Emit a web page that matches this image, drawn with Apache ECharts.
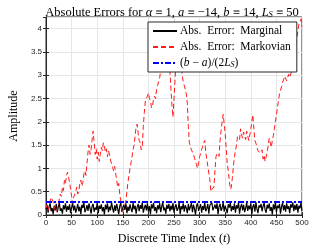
<!DOCTYPE html>
<html>
<head>
<meta charset="utf-8">
<script src="https://cdn.jsdelivr.net/npm/echarts@6/dist/echarts.min.js"></script>
<style>
  html, body { margin: 0; padding: 0; background: #fff; }
  #main { width: 333px; height: 250px; }
</style>
</head>
<body>
<div id="main"></div>
<script>
// x ticks / y ticks
var xTicks = [0, 50, 100, 150, 200, 250, 300, 350, 400, 450, 500];
var yTicks = [0, 0.5, 1, 1.5, 2, 2.5, 3, 3.5, 4];

// Abs. Error: Markovian, sampled every 2 steps (t = 0, 2, ..., 500)
var markovStep = 2;
var markovian = [
  0.15, 0.22, 0.10, 0.18, 0.30, 0.38, 0.42, 0.28, 0.20, 0.10,
  0.05, 0.12, 0.20, 0.35, 0.45, 0.40, 0.60, 0.52, 0.75, 0.68,
  0.85, 0.92, 0.90, 0.70, 0.55, 0.40, 0.25, 0.38, 0.35, 0.50,
  0.60, 0.45, 0.50, 0.68, 0.75, 0.62, 0.70, 0.88, 0.95, 0.85,
  1.10, 1.35, 1.50, 1.30, 1.40, 1.62, 1.80, 1.55, 1.30, 1.42,
  1.20, 1.35, 1.15, 1.30, 1.45, 1.38, 1.55, 1.48, 1.35, 1.42,
  1.25, 1.38, 1.30, 1.18, 1.10, 1.02, 0.95, 1.05, 0.90, 0.75,
  0.60, 0.68, 0.45, 0.30, 0.10, 0.05, 0.15, 0.22, 0.30, 0.50,
  0.70, 0.85, 1.00, 1.12, 1.25, 1.40, 1.50, 1.70, 1.90, 1.95,
  1.75, 1.60, 1.55, 1.40, 1.45, 1.90, 2.20, 2.45, 2.50, 2.55,
  2.62, 2.50, 2.45, 2.30, 2.35, 2.48, 2.55, 2.50, 2.70, 2.78,
  2.80, 2.95, 3.10, 3.25, 3.30, 3.42, 3.50, 3.62, 3.70, 3.58,
  3.45, 3.10, 2.70, 2.35, 2.10, 2.50, 2.90, 3.30, 3.50, 3.65,
  3.60, 3.40, 3.20, 3.00, 2.85, 2.78, 2.70, 2.60, 2.40, 1.90,
  1.55, 1.48, 1.40, 1.35, 1.30, 1.22, 1.15, 1.08, 1.00, 1.12,
  1.25, 1.32, 1.40, 1.48, 1.55, 1.60, 1.35, 1.20, 1.05, 0.90,
  0.75, 0.50, 0.55, 0.58, 0.60, 0.95, 1.25, 1.33, 1.30, 1.26,
  1.60, 1.82, 2.00, 2.16, 2.15, 1.75, 1.40, 1.10, 0.95, 0.75,
  0.55, 0.60, 0.80, 1.05, 1.25, 1.38, 1.50, 1.68, 1.70, 1.62,
  1.85, 1.72, 1.65, 1.78, 1.75, 1.62, 1.80, 1.70, 1.60, 1.72,
  1.85, 2.00, 2.15, 1.85, 1.60, 1.54, 1.50, 1.38, 1.40, 1.33,
  1.30, 1.40, 1.20, 1.28, 1.15, 1.25, 1.35, 1.50, 1.65, 1.55,
  1.45, 1.60, 1.70, 1.85, 2.00, 2.15, 2.30, 2.45, 2.60, 2.64,
  2.75, 2.85, 2.90, 2.98, 3.00, 2.88, 2.90, 3.02, 2.95, 2.92,
  3.10, 3.20, 3.30, 3.45, 3.60, 3.80, 3.95, 4.10, 4.15, 4.20,
  4.05
];

// Abs. Error: Marginal, sampled every 2 steps (t = 0, 2, ..., 500)
var marginalStep = 2;
var marginal = [
  0.12, 0.22, 0.05, 0.18, 0.25, 0.08, 0.15, 0.02, 0.20, 0.10,
  0.24, 0.06, 0.17, 0.26, 0.09, 0.14, 0.03, 0.21, 0.12, 0.25,
  0.07, 0.19, 0.11, 0.23, 0.04, 0.16, 0.26, 0.10, 0.20, 0.05,
  0.13, 0.24, 0.08, 0.18, 0.02, 0.22, 0.15, 0.27, 0.06, 0.12,
  0.21, 0.09, 0.25, 0.14, 0.03, 0.19, 0.24, 0.07, 0.16, 0.11,
  0.26, 0.04, 0.20, 0.13, 0.23, 0.08, 0.17, 0.01, 0.22, 0.12,
  0.25, 0.06, 0.18, 0.10, 0.27, 0.15, 0.05, 0.21, 0.09, 0.24,
  0.13, 0.02, 0.19, 0.26, 0.07, 0.16, 0.22, 0.11, 0.25, 0.04,
  0.18, 0.09, 0.23, 0.14, 0.06, 0.26, 0.12, 0.20, 0.03, 0.17,
  0.24, 0.08, 0.21, 0.13, 0.27, 0.05, 0.15, 0.22, 0.10, 0.25,
  0.07, 0.19, 0.02, 0.23, 0.14, 0.26, 0.09, 0.17, 0.04, 0.21,
  0.12, 0.25, 0.06, 0.18, 0.27, 0.10, 0.16, 0.03, 0.22, 0.13,
  0.24, 0.08, 0.20, 0.11, 0.26, 0.05, 0.17, 0.23, 0.09, 0.14,
  0.27, 0.02, 0.19, 0.12, 0.25, 0.07, 0.21, 0.15, 0.04, 0.24,
  0.10, 0.18, 0.26, 0.06, 0.22, 0.13, 0.01, 0.20, 0.25, 0.09,
  0.16, 0.23, 0.05, 0.19, 0.11, 0.27, 0.08, 0.14, 0.24, 0.03,
  0.21, 0.17, 0.26, 0.10, 0.06, 0.22, 0.13, 0.25, 0.02, 0.18,
  0.24, 0.09, 0.15, 0.27, 0.07, 0.20, 0.12, 0.04, 0.23, 0.16,
  0.26, 0.08, 0.19, 0.11, 0.25, 0.05, 0.21, 0.14, 0.27, 0.03,
  0.17, 0.24, 0.10, 0.22, 0.06, 0.15, 0.26, 0.09, 0.20, 0.12,
  0.25, 0.02, 0.18, 0.23, 0.07, 0.27, 0.13, 0.04, 0.21, 0.16,
  0.24, 0.08, 0.19, 0.26, 0.11, 0.05, 0.22, 0.14, 0.25, 0.09,
  0.17, 0.01, 0.23, 0.12, 0.27, 0.06, 0.20, 0.15, 0.24, 0.03,
  0.18, 0.26, 0.10, 0.21, 0.07, 0.25, 0.13, 0.19, 0.04, 0.23,
  0.16, 0.27, 0.08, 0.22, 0.11, 0.24, 0.05, 0.20, 0.14, 0.26,
  0.09
];

// (b - a)/(2 L_S) with a = -14, b = 14, L_S = 50
var a = -14, b = 14, Ls = 50;
var bound = (b - a) / (2 * Ls);
var boundT = [0, 500];

function pairs(vals, step) {
  return vals.map(function (v, i) { return [i * step, v]; });
}

var serif = 'Liberation Serif';
var sans = 'Liberation Sans';
var axisCol = '#262626';

var chart = echarts.init(document.getElementById('main'));
var option = {
  animation: false,
  backgroundColor: '#fff',
  title: {
    text: 'Absolute Errors for {i|α} ≡ 1, {i|a} ≡ −14, {i|b} ≡ 14, {i|L}{s|S} ≡ 50',
    left: 167, textAlign: 'center', top: 1,
    textStyle: {
      fontFamily: serif, fontSize: 12.5, fontWeight: 'normal', color: '#000',
      rich: {
        i: { fontFamily: serif, fontSize: 12.5, fontStyle: 'italic', color: '#000' },
        s: { fontFamily: serif, fontSize: 8.5, fontStyle: 'italic', color: '#000', verticalAlign: 'bottom', padding: [4, 0, 0, 0] }
      }
    }
  },
  legend: {
    orient: 'vertical',
    left: 148, top: 22,
    itemWidth: 24, itemHeight: 8, itemGap: 4,
    padding: [3, 6, 3, 4],
    backgroundColor: '#fff',
    borderColor: axisCol, borderWidth: 1,
    itemStyle: { opacity: 0 },
    data: ['Marginal', 'Markovian', 'Bound'],
    formatter: function (name) {
      if (name === 'Marginal') return 'Abs.  Error:  Marginal';
      if (name === 'Markovian') return 'Abs.  Error:  Markovian';
      return '({i|b} − {i|a})/(2{i|L}{s|S})';
    },
    textStyle: {
      fontFamily: serif, fontSize: 11.5, color: '#000', padding: [0, 0, 0, -2],
      rich: {
        i: { fontFamily: serif, fontSize: 11.5, fontStyle: 'italic', color: '#000' },
        s: { fontFamily: serif, fontSize: 8, fontStyle: 'italic', color: '#000', verticalAlign: 'bottom', padding: [4, 0, 0, 0] }
      }
    }
  },
  grid: {
    left: 43, right: 31, top: 17, bottom: 27,
    show: true, borderColor: axisCol, borderWidth: 1, backgroundColor: 'transparent'
  },
  xAxis: [{
    type: 'value', min: 0, max: 500, interval: 50,
    name: 'Discrete Time Index ({i|t})',
    nameLocation: 'middle', nameGap: 18,
    nameTextStyle: {
      fontFamily: serif, fontSize: 12, color: '#000',
      rich: { i: { fontFamily: serif, fontSize: 12, fontStyle: 'italic', color: '#000' } }
    },
    axisLine: { lineStyle: { color: axisCol, width: 1 } },
    axisTick: { inside: true, length: 3, lineStyle: { color: axisCol } },
    axisLabel: { fontFamily: sans, fontSize: 8, color: axisCol, margin: 4 },
    splitLine: { show: true, lineStyle: { color: '#e6e6e6', width: 1 } }
  }, {
    type: 'value', min: 0, max: 500, interval: 50, position: 'top',
    axisLine: { lineStyle: { color: axisCol } },
    axisTick: { inside: true, length: 3, lineStyle: { color: axisCol } },
    axisLabel: { show: false }, splitLine: { show: false }
  }],
  yAxis: [{
    type: 'value', min: 0, max: 4.25, interval: 0.5,
    name: 'Amplitude', nameLocation: 'middle', nameGap: 15, nameRotate: 90,
    nameTextStyle: { fontFamily: serif, fontSize: 12, color: '#000' },
    axisLine: { show: true, lineStyle: { color: axisCol, width: 1 } },
    axisTick: { show: true, inside: true, length: 3, lineStyle: { color: axisCol } },
    axisLabel: { fontFamily: sans, fontSize: 8, color: axisCol, margin: 4, showMaxLabel: false },
    splitLine: { show: true, lineStyle: { color: '#e6e6e6', width: 1 } }
  }, {
    type: 'value', min: 0, max: 4.25, interval: 0.5, position: 'right',
    axisLine: { show: true, lineStyle: { color: axisCol } },
    axisTick: { show: true, inside: true, length: 3, lineStyle: { color: axisCol } },
    axisLabel: { show: false }, splitLine: { show: false }
  }],
  series: [{
    name: 'Marginal', type: 'line', showSymbol: false, symbol: 'none',
    data: pairs(marginal, marginalStep),
    lineStyle: { color: '#000', width: 1.2 },
    itemStyle: { color: '#000' }
  }, {
    name: 'Markovian', type: 'line', showSymbol: false, symbol: 'none',
    data: pairs(markovian, markovStep),
    lineStyle: { color: '#ff1a1a', width: 1, type: [5, 3] },
    itemStyle: { color: '#ff1a1a' }
  }, {
    name: 'Bound', type: 'line', showSymbol: false, symbol: 'none',
    data: boundT.map(function (t) { return [t, bound]; }),
    lineStyle: { color: '#0000ff', width: 2, type: [6, 2, 2, 2] },
    itemStyle: { color: '#0000ff' }
  }]
};
chart.setOption(option);
</script>
</body>
</html>
